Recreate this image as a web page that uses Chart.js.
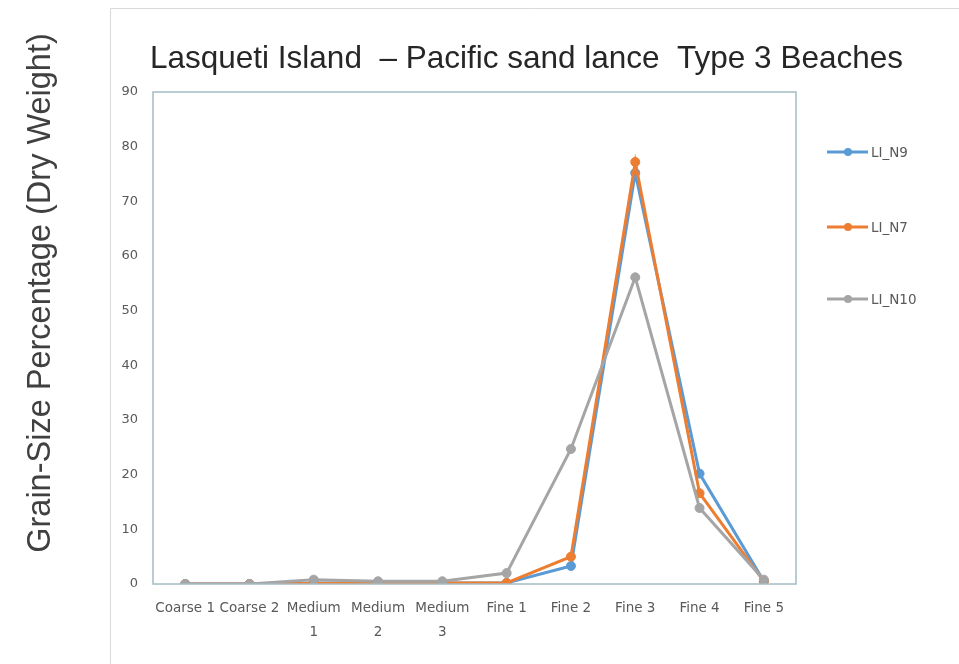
<!DOCTYPE html>
<html>
<head>
<meta charset="utf-8">
<script src="https://cdn.jsdelivr.net/npm/chart.js@4/dist/chart.umd.min.js"></script>
<style>
  html, body { margin: 0; padding: 0; background: #ffffff; }
  #wrap { position: relative; width: 959px; height: 664px; }
</style>
</head>
<body>
<div id="wrap"><canvas id="chart" width="959" height="664"></canvas></div>
<script>
// Grain-size classes along the x axis
const categories = [
  'Coarse 1', 'Coarse 2', ['Medium', '1'], ['Medium', '2'], ['Medium', '3'],
  'Fine 1', 'Fine 2', 'Fine 3', 'Fine 4', 'Fine 5'
];

// Percentage of dry weight per class, one array per beach sample
const seriesNames = ['LI_N9', 'LI_N7', 'LI_N10'];
const valuesN9  = [0, 0, 0.2, 0.2, 0.2, 0.2, 3.3, 75.2, 20.2, 0.5];
const valuesN7  = [0, 0, 0.1, 0.1, 0.2, 0.2, 5.0, 77.2, 16.6, 0.5];
const valuesN10 = [0, 0, 0.8, 0.5, 0.5, 2.0, 24.7, 56.1, 13.9, 0.8];

const yTicks = [0, 10, 20, 30, 40, 50, 60, 70, 80, 90];

const titleText = 'Lasqueti Island  \u2013 Pacific sand lance  Type 3 Beaches';
const yTitleText = 'Grain-Size Percentage (Dry Weight)';

const colors = ['#5b9bd5', '#ed7d31', '#a5a5a5'];
const seriesValues = [valuesN9, valuesN7, valuesN10];

// later series are painted over earlier ones
const datasets = seriesNames.map((name, i) => ({
  label: name,
  data: seriesValues[i],
  order: seriesNames.length - i,
  borderColor: colors[i],
  backgroundColor: colors[i],
  borderWidth: 3,
  pointRadius: 4.5,
  pointBorderWidth: 1,
  pointBackgroundColor: colors[i],
  pointBorderColor: colors[i],
  tension: 0,
  fill: false
}));

// Frame, plot border, titles and side legend
const decorations = {
  id: 'decorations',
  beforeDraw(chart) {
    const ctx = chart.ctx;
    ctx.save();
    ctx.fillStyle = '#ffffff';
    ctx.fillRect(0, 0, chart.width, chart.height);
    ctx.strokeStyle = '#d9d9d9';
    ctx.lineWidth = 1;
    ctx.beginPath();
    ctx.moveTo(110.5, chart.height);
    ctx.lineTo(110.5, 8.5);
    ctx.lineTo(chart.width, 8.5);
    ctx.stroke();
    ctx.restore();
  },
  afterDraw(chart) {
    const ctx = chart.ctx;
    const a = chart.chartArea;
    ctx.save();
    // plot area border
    ctx.strokeStyle = '#a3bcc5';
    ctx.lineWidth = 1.5;
    ctx.strokeRect(a.left, a.top, a.right - a.left, a.bottom - a.top);

    // chart title
    ctx.fillStyle = '#262626';
    ctx.font = '31.5px "Liberation Sans", Arial, sans-serif';
    ctx.textAlign = 'left';
    ctx.textBaseline = 'alphabetic';
    ctx.fillText(titleText, 150, 68);

    // y axis title
    ctx.save();
    ctx.translate(50, 293);
    ctx.rotate(-Math.PI / 2);
    ctx.fillStyle = '#404040';
    ctx.font = '32.5px "Liberation Sans", Arial, sans-serif';
    ctx.textAlign = 'center';
    ctx.textBaseline = 'alphabetic';
    ctx.fillText(yTitleText, 0, 0);
    ctx.restore();

    // legend
    const legendY = [152, 227, 299];
    chart.data.datasets.forEach((ds, i) => {
      const y = legendY[i];
      ctx.strokeStyle = ds.borderColor;
      ctx.lineWidth = 3;
      ctx.beginPath();
      ctx.moveTo(827, y);
      ctx.lineTo(868, y);
      ctx.stroke();
      ctx.fillStyle = ds.borderColor;
      ctx.beginPath();
      ctx.arc(848, y, 4, 0, Math.PI * 2);
      ctx.fill();
      ctx.fillStyle = '#595959';
      ctx.font = '13.5px "DejaVu Sans", sans-serif';
      ctx.textAlign = 'left';
      ctx.textBaseline = 'middle';
      ctx.fillText(ds.label, 871, y + 1);
    });
    ctx.restore();
  }
};

new Chart(document.getElementById('chart'), {
  type: 'line',
  data: { labels: categories, datasets },
  options: {
    responsive: false,
    animation: false,
    devicePixelRatio: 1,
    layout: { padding: { top: 92, right: 163, bottom: 0, left: 0 } },
    plugins: {
      legend: { display: false },
      title: { display: false },
      tooltip: { enabled: false }
    },
    scales: {
      x: {
        type: 'category',
        offset: true,
        grid: { display: false, drawTicks: false },
        border: { display: false },
        ticks: {
          color: '#595959',
          font: { family: '"DejaVu Sans", sans-serif', size: 13.5, lineHeight: 1.75 },
          padding: 13,
          maxRotation: 0,
          autoSkip: false
        },
        afterFit(scale) { scale.height = 80; }
      },
      y: {
        min: 0,
        max: 90,
        afterBuildTicks(scale) { scale.ticks = yTicks.map(v => ({ value: v })); },
        grid: { display: false, drawTicks: false },
        border: { display: false },
        ticks: {
          color: '#595959',
          font: { family: '"DejaVu Sans", sans-serif', size: 13 },
          padding: 15
        },
        afterFit(scale) { scale.width = 153; }
      }
    }
  },
  plugins: [decorations]
});
</script>
</body>
</html>
